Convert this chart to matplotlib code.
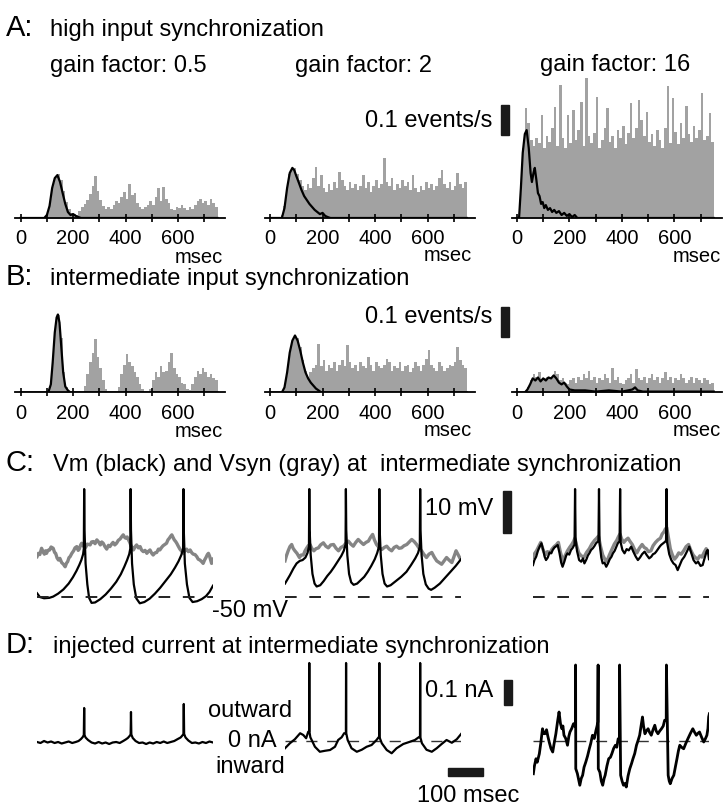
import numpy as np
import matplotlib
matplotlib.use('Agg')
import matplotlib.pyplot as plt
from matplotlib.patches import Rectangle

plt.rcParams['font.family'] = ['Liberation Sans', 'DejaVu Sans']

# ---------------- data ----------------
# PSTH bins (msec, left edges, 10 msec wide)
bin_left = np.arange(0, 750, 10)
tick_pos = list(range(0, 800, 100))
tick_labels = ['0', '', '200', '', '400', '', '600', '']

# A: high input synchronization, histograms in events/s
a1_gray = [0, 0, 0, 0, 0, 0, 0, 0, 0, 0,
           0.013, 0.047, 0.100, 0.133, 0.147, 0.127, 0.090, 0.053, 0.030, 0.017,
           0.013, 0.010, 0.023, 0.037, 0.047, 0.060, 0.080, 0.107, 0.140, 0.090,
           0.060, 0.040, 0.030, 0.037, 0.030, 0.043, 0.057, 0.050, 0.070, 0.087,
           0.063, 0.113, 0.077, 0.083, 0.050, 0.037, 0.030, 0.037, 0.043, 0.057,
           0.043, 0.070, 0.100, 0.057, 0.103, 0.063, 0.050, 0.030, 0.027, 0.037,
           0.033, 0.043, 0.033, 0.027, 0.037, 0.030, 0.043, 0.057, 0.063, 0.050,
           0.057, 0.043, 0.063, 0.050, 0.037]
a1_black_t = [0, 90, 100, 110, 120, 130, 140, 150, 160, 170, 180, 190, 200, 210, 220, 230, 750]
a1_black = [0, 0, 0.010, 0.040, 0.100, 0.133, 0.143, 0.120, 0.083, 0.047, 0.020, 0.010,
            0.013, 0.007, 0.003, 0, 0]

a2_gray = [0, 0, 0, 0, 0.010, 0.040, 0.100, 0.147, 0.167, 0.167,
           0.147, 0.127, 0.107, 0.093, 0.113, 0.100, 0.133, 0.170, 0.107, 0.143,
           0.100, 0.087, 0.113, 0.093, 0.120, 0.100, 0.153, 0.127, 0.107, 0.093,
           0.120, 0.100, 0.113, 0.093, 0.107, 0.143, 0.100, 0.120, 0.087, 0.107,
           0.127, 0.100, 0.113, 0.200, 0.120, 0.107, 0.133, 0.093, 0.113, 0.100,
           0.127, 0.107, 0.120, 0.093, 0.143, 0.100, 0.087, 0.107, 0.093, 0.120,
           0.100, 0.113, 0.093, 0.107, 0.133, 0.160, 0.113, 0.100, 0.120, 0.093,
           0.107, 0.150, 0.113, 0.100, 0.120]
a2_black_t = [0, 45, 55, 65, 75, 85, 92, 100, 110, 120, 130, 140, 150, 160, 170, 180,
              190, 200, 210, 220, 230, 750]
a2_black = [0, 0, 0.033, 0.100, 0.150, 0.167, 0.160, 0.140, 0.117, 0.093, 0.073, 0.060,
            0.047, 0.037, 0.027, 0.020, 0.013, 0.017, 0.007, 0.003, 0, 0]

a3_gray = [0, 0.067, 0.233, 0.367, 0.317, 0.260, 0.240, 0.267, 0.250, 0.343,
           0.233, 0.273, 0.253, 0.300, 0.370, 0.240, 0.443, 0.267, 0.233, 0.343,
           0.250, 0.360, 0.260, 0.293, 0.387, 0.240, 0.467, 0.273, 0.250, 0.283,
           0.403, 0.233, 0.260, 0.300, 0.367, 0.253, 0.273, 0.233, 0.293, 0.267,
           0.307, 0.247, 0.283, 0.383, 0.267, 0.300, 0.393, 0.327, 0.273, 0.353,
           0.253, 0.280, 0.240, 0.293, 0.260, 0.233, 0.300, 0.440, 0.250, 0.400,
           0.287, 0.247, 0.317, 0.267, 0.373, 0.280, 0.253, 0.307, 0.267, 0.293,
           0.417, 0.260, 0.273, 0.350, 0.253]
a3_black_t = [0, 8, 15, 22, 30, 37, 45, 52, 57, 63, 68, 74, 80, 86, 92, 98, 104, 110,
              118, 126, 134, 142, 150, 160, 170, 180, 190, 200, 210, 220, 230, 750]
a3_black = [0, 0, 0.100, 0.217, 0.280, 0.293, 0.233, 0.150, 0.120, 0.150, 0.167, 0.127,
            0.083, 0.073, 0.047, 0.053, 0.033, 0.043, 0.027, 0.033, 0.020, 0.027, 0.017,
            0.023, 0.010, 0.017, 0.007, 0.013, 0.003, 0.010, 0, 0]

# B: intermediate input synchronization
b1_gray = [0, 0, 0, 0, 0, 0, 0, 0, 0, 0,
           0, 0.017, 0.100, 0.217, 0.260, 0.183, 0.067, 0.017, 0, 0,
           0, 0, 0, 0, 0.020, 0.060, 0.100, 0.133, 0.177, 0.117,
           0.080, 0.040, 0.013, 0, 0, 0, 0, 0.017, 0.060, 0.093,
           0.127, 0.100, 0.087, 0.067, 0.053, 0.027, 0.010, 0, 0, 0.013,
           0.040, 0.067, 0.053, 0.087, 0.067, 0.073, 0.100, 0.130, 0.080, 0.060,
           0.053, 0.033, 0.027, 0.010, 0.007, 0.027, 0.053, 0.073, 0.060, 0.080,
           0.067, 0.053, 0.060, 0.047, 0.040]
b1_black_t = [0, 105, 115, 122, 130, 137, 142, 148, 155, 162, 170, 180, 190, 750]
b1_black = [0, 0, 0.027, 0.100, 0.200, 0.250, 0.260, 0.233, 0.150, 0.067, 0.020, 0.007, 0, 0]

b2_gray = [0, 0, 0, 0, 0, 0.013, 0.050, 0.107, 0.160, 0.187,
           0.180, 0.150, 0.107, 0.073, 0.053, 0.067, 0.080, 0.093, 0.160, 0.087,
           0.107, 0.073, 0.093, 0.080, 0.100, 0.073, 0.093, 0.107, 0.087, 0.157,
           0.100, 0.080, 0.093, 0.073, 0.100, 0.087, 0.080, 0.117, 0.093, 0.073,
           0.100, 0.087, 0.080, 0.093, 0.113, 0.100, 0.073, 0.087, 0.080, 0.100,
           0.073, 0.087, 0.093, 0.067, 0.080, 0.100, 0.087, 0.073, 0.093, 0.113,
           0.140, 0.093, 0.080, 0.073, 0.100, 0.087, 0.073, 0.080, 0.093, 0.087,
           0.100, 0.150, 0.107, 0.093, 0.080]
b2_black_t = [0, 45, 55, 65, 75, 85, 95, 105, 115, 125, 135, 145, 155, 165, 175, 185, 195, 750]
b2_black = [0, 0, 0.017, 0.067, 0.133, 0.173, 0.190, 0.173, 0.140, 0.100, 0.067, 0.047,
            0.033, 0.023, 0.013, 0.007, 0, 0]

b3_gray = [0, 0, 0, 0, 0.017, 0.040, 0.060, 0.050, 0.067, 0.040,
           0.047, 0.053, 0.040, 0.050, 0.073, 0.060, 0.040, 0.047, 0.033, 0.027,
           0.040, 0.047, 0.033, 0.053, 0.040, 0.060, 0.047, 0.073, 0.040, 0.053,
           0.033, 0.047, 0.040, 0.060, 0.047, 0.033, 0.080, 0.040, 0.053, 0.033,
           0.027, 0.040, 0.047, 0.060, 0.033, 0.077, 0.047, 0.040, 0.053, 0.033,
           0.047, 0.060, 0.040, 0.053, 0.033, 0.047, 0.067, 0.040, 0.053, 0.033,
           0.047, 0.040, 0.060, 0.047, 0.033, 0.040, 0.053, 0.033, 0.047, 0.040,
           0.033, 0.047, 0.040, 0.027, 0.033]
b3_black_t = [0, 30, 40, 50, 60, 70, 80, 90, 100, 110, 120, 130, 140, 150, 160, 170, 180,
              190, 200, 220, 260, 300, 350, 400, 440, 450, 460, 480, 750]
b3_black = [0, 0, 0.010, 0.027, 0.047, 0.040, 0.050, 0.037, 0.047, 0.040, 0.050, 0.047,
            0.057, 0.047, 0.033, 0.027, 0.033, 0.020, 0.010, 0.007, 0.007, 0.003, 0.007,
            0.003, 0.010, 0.017, 0.007, 0.003, 0.003]

# C: membrane potential Vm (black) and synaptic potential Vsyn (gray), mV vs msec
c1_vm_t = [0, 8, 20, 35, 46, 60, 75, 90, 102, 112, 120, 126, 131, 133, 134, 135, 138, 143,
           148, 155, 165, 180, 195, 210, 225, 238, 248, 256, 262, 265, 266, 267, 270, 275,
           282, 292, 305, 320, 335, 350, 365, 380, 392, 402, 410, 415, 416, 417, 420, 426,
           433, 442, 455, 468, 480, 490, 500]
c1_vm = [-49.1, -50.0, -50.3, -50.2, -49.9, -49.2, -48.2, -46.8, -45.3, -43.8, -42.4, -41.2,
         -39.8, -38.5, -24.3, -34.0, -42.0, -47.0, -50.2, -51.4, -51.3, -50.5, -49.4, -48.0,
         -46.4, -44.6, -42.8, -41.2, -39.8, -38.5, -24.3, -34.0, -42.0, -47.0, -50.3, -51.5,
         -51.2, -50.4, -49.2, -47.8, -46.2, -44.6, -43.0, -41.5, -40.0, -38.5, -24.3, -34.0,
         -42.0, -47.0, -50.2, -51.2, -51.0, -50.5, -49.8, -48.8, -47.3]
c1_vsyn_t = [0, 4, 8, 13, 17, 21, 24, 27, 31, 36, 40, 46, 50, 53, 57, 61, 65, 70, 75, 80,
             84, 87, 91, 94, 99, 104, 108, 113, 117, 120, 124, 127, 132, 138, 143, 151, 155,
             160, 165, 170, 175, 180, 184, 188, 193, 198, 203, 207, 212, 216, 221, 226, 231,
             236, 241, 245, 249, 252, 256, 260, 264, 267, 271, 274, 279, 283, 288, 293, 297,
             302, 307, 312, 317, 321, 326, 330, 335, 340, 345, 349, 354, 358, 363, 368, 372,
             376, 380, 383, 387, 390, 394, 397, 402, 406, 411, 416, 420, 425, 430, 435, 440,
             444, 449, 454, 458, 463, 468, 472, 476, 480, 484, 487, 490, 492, 496, 500]
c1_vsyn = [-40.4, -39.6, -39.9, -38.4, -39.2, -39.8, -39.0, -39.6, -38.9, -38.8, -38.1, -38.4,
           -39.4, -39.6, -40.7, -41.2, -40.8, -41.8, -42.2, -42.8, -41.9, -41.6, -40.6, -40.4,
           -39.6, -39.0, -38.3, -38.0, -38.9, -38.6, -37.6, -37.2, -37.9, -38.2, -37.4, -37.6,
           -36.9, -36.8, -37.3, -36.4, -36.9, -37.6, -36.9, -37.2, -38.0, -38.6, -37.7, -38.0,
           -37.4, -37.0, -37.6, -37.2, -36.5, -36.2, -35.6, -35.2, -35.8, -36.0, -35.7, -36.4,
           -37.1, -37.8, -38.3, -38.8, -38.0, -37.6, -38.3, -38.0, -38.8, -39.2, -38.9, -39.6,
           -39.1, -38.8, -39.6, -40.0, -39.5, -39.4, -38.6, -38.8, -38.2, -37.8, -37.5, -37.2,
           -36.4, -36.0, -35.5, -35.2, -35.9, -36.4, -36.8, -37.2, -38.0, -38.6, -39.1, -39.6,
           -39.0, -38.6, -39.2, -38.8, -39.5, -39.8, -39.9, -40.4, -41.0, -41.2, -41.6, -42.0,
           -41.2, -40.6, -39.9, -39.6, -40.2, -40.8, -42.0, -41.0]

c2_vm_t = [0, 7, 14, 24, 33, 42, 50, 58, 64, 68, 69, 70, 73, 78, 84, 90, 100, 110, 120, 130,
           140, 150, 160, 167, 172, 173, 174, 177, 182, 188, 195, 205, 215, 225, 235, 245,
           255, 262, 267, 268, 269, 272, 277, 283, 290, 300, 315, 330, 345, 358, 370, 378,
           383, 384, 385, 388, 393, 400, 408, 415, 425, 440, 455, 469, 485, 500]
c2_vm = [-46.8, -45.8, -44.8, -43.2, -42.0, -41.4, -41.2, -40.6, -39.5, -38.0, -24.3, -34.0,
         -40.0, -44.5, -46.8, -47.5, -47.2, -46.2, -45.0, -44.0, -42.8, -41.5, -40.2, -39.0,
         -37.5, -24.3, -34.0, -40.0, -44.5, -46.5, -47.1, -46.8, -46.0, -45.2, -44.0, -42.6,
         -41.0, -39.5, -38.0, -24.3, -34.0, -40.0, -44.5, -46.8, -47.5, -47.2, -46.2, -45.2,
         -44.0, -42.4, -40.8, -39.5, -38.0, -24.3, -34.0, -40.0, -44.5, -47.0, -48.0, -48.3,
         -47.8, -46.8, -45.4, -44.1, -42.6, -41.0]
c2_vsyn_t = [0, 4, 9, 14, 19, 23, 28, 34, 41, 46, 52, 57, 62, 66, 71, 76, 82, 88, 95, 101,
             109, 116, 123, 130, 138, 145, 152, 159, 166, 173, 180, 187, 194, 201, 208, 215,
             223, 230, 237, 243, 249, 254, 260, 267, 275, 282, 289, 296, 303, 310, 317, 324,
             331, 338, 346, 353, 360, 367, 374, 381, 388, 395, 402, 409, 417, 424, 431, 438,
             445, 452, 459, 466, 474, 480, 486, 491, 496]
c2_vsyn = [-41.4, -40.2, -39.0, -38.0, -37.5, -38.4, -39.0, -39.6, -40.6, -40.0, -40.0, -39.0,
           -38.3, -37.8, -37.5, -38.4, -39.0, -38.5, -38.3, -37.6, -37.1, -37.9, -38.3, -37.6,
           -37.5, -38.4, -39.0, -38.2, -37.9, -37.2, -36.7, -37.4, -37.9, -37.0, -36.3, -36.9,
           -37.5, -37.0, -36.7, -35.8, -35.1, -36.4, -37.5, -38.2, -38.7, -38.2, -37.9, -38.6,
           -39.0, -38.2, -37.9, -38.4, -38.3, -37.8, -37.5, -36.9, -36.3, -36.8, -37.5, -38.4,
           -39.0, -39.9, -40.6, -39.8, -39.4, -40.5, -41.4, -41.8, -42.2, -41.4, -40.6, -41.2,
           -41.8, -40.4, -39.0, -39.8, -40.6]

c3_vm_t = [0, 4, 9, 14, 19, 24, 29, 33, 37, 42, 47, 52, 56, 61, 66, 70, 75, 80, 84, 89, 94,
           98, 103, 108, 112, 116, 118, 119.5, 121, 125, 131, 137, 142, 146, 152, 156, 160,
           165, 170, 175, 179, 184, 186, 187.5, 189, 194, 198, 203, 208, 213, 218, 223, 227,
           232, 237, 241, 245, 246, 247.5, 249, 254, 260, 266, 272, 279, 285, 292, 298, 304,
           310, 317, 323, 330, 336, 341, 346, 350, 355, 360, 364, 370, 376, 378, 379.5, 381,
           387, 393, 399, 405, 411, 417, 423, 430, 436, 444, 450, 456, 463, 469, 476, 482,
           488, 493, 496, 500]
c3_vm = [-42.4, -41.2, -40.4, -39.0, -38.0, -37.2, -38.8, -40.4, -41.2, -40.6, -39.4, -39.6,
         -38.8, -38.2, -37.9, -37.6, -39.4, -41.8, -42.8, -41.6, -40.2, -39.6, -39.9, -38.8,
         -38.4, -37.8, -37.5, -24.3, -36.0, -39.0, -41.2, -41.6, -40.8, -42.0, -41.0, -40.1,
         -39.6, -38.8, -38.4, -37.8, -37.2, -36.8, -36.5, -24.3, -37.0, -40.6, -42.0, -41.8,
         -42.8, -42.0, -41.0, -40.4, -39.6, -39.0, -38.0, -37.2, -36.8, -36.5, -24.3, -37.0,
         -38.8, -39.6, -38.6, -38.9, -38.0, -39.2, -40.4, -41.2, -40.6, -39.8, -39.2, -40.0,
         -40.8, -40.4, -39.8, -39.6, -39.2, -38.6, -38.0, -37.6, -37.2, -36.8, -36.5, -24.3,
         -37.0, -39.8, -41.2, -42.0, -42.4, -43.6, -42.4, -41.2, -40.4, -39.4, -38.0, -39.6,
         -41.2, -42.0, -41.6, -42.6, -42.4, -40.6, -39.2, -38.8, -41.0]
c3_vsyn_t = [0, 5, 10, 16, 22, 28, 35, 41, 48, 54, 60, 66, 72, 78, 85, 91, 98, 104, 110, 115,
             119, 124, 130, 137, 145, 152, 160, 167, 175, 181, 186, 192, 198, 204, 210, 217,
             225, 231, 238, 243, 247, 252, 258, 264, 270, 276, 282, 288, 295, 302, 310, 316,
             322, 328, 335, 341, 348, 355, 362, 367, 372, 376, 380, 385, 390, 396, 402, 408,
             414, 421, 428, 435, 442, 448, 455, 461, 468, 474, 480, 486, 492, 496, 500]
c3_vsyn = [-40.5, -39.6, -39.0, -38.0, -37.0, -38.6, -40.0, -39.2, -39.5, -38.6, -38.0, -37.6,
           -37.0, -39.4, -41.5, -40.2, -39.0, -38.2, -37.5, -36.8, -36.0, -37.8, -39.5, -40.2,
           -40.5, -39.4, -38.5, -37.4, -36.5, -36.0, -35.5, -38.0, -40.0, -41.0, -41.5, -40.0,
           -38.5, -37.4, -36.5, -35.6, -35.0, -36.2, -37.0, -36.4, -36.0, -36.8, -37.5, -38.6,
           -39.5, -38.4, -37.5, -38.2, -38.5, -39.2, -39.0, -37.8, -37.0, -36.4, -36.0, -35.0,
           -34.5, -33.8, -33.5, -36.0, -38.5, -40.0, -41.0, -40.4, -39.5, -39.8, -39.0, -38.0,
           -37.5, -38.8, -40.0, -40.6, -41.0, -40.2, -40.5, -39.4, -38.5, -39.0, -39.5]
rest_mv = -50

# D: injected current (nA) vs msec
d1_t = [0, 10, 20, 30, 40, 50, 60, 70, 80, 90, 100, 110, 118, 125, 130, 133, 134, 135, 138,
        145, 155, 165, 175, 185, 195, 205, 215, 225, 235, 245, 252, 258, 263, 266, 267, 268,
        272, 280, 290, 300, 310, 320, 330, 340, 350, 360, 370, 380, 390, 400, 408, 413, 416,
        417, 418, 422, 430, 440, 450, 460, 470, 480, 490, 500]
d1_i = [-0.004, -0.008, 0.0, -0.006, -0.002, -0.008, -0.004, -0.010, -0.006, -0.002, -0.008,
        -0.004, 0.0, 0.008, 0.016, 0.024, 0.132, 0.024, 0.014, 0.004, -0.006, -0.010, -0.004,
        -0.010, -0.006, -0.012, -0.006, -0.004, -0.008, 0.0, 0.006, 0.012, 0.020, 0.026, 0.116,
        0.026, 0.012, 0.0, -0.008, -0.006, -0.012, -0.006, -0.010, -0.004, -0.008, -0.002,
        -0.008, -0.004, 0.0, 0.008, 0.014, 0.022, 0.028, 0.148, 0.028, 0.014, 0.002, -0.008,
        -0.006, -0.010, -0.004, -0.008, -0.002, -0.006]
d2_t = [0, 14, 28, 43, 52, 60, 66, 68.5, 69, 69.5, 72, 85, 99, 114, 128, 142, 151, 161, 168,
        173, 173.5, 174, 178, 189, 204, 218, 232, 246, 260, 266, 267.5, 268, 268.5, 275, 289,
        303, 317, 336, 355, 369, 380, 383.5, 384, 384.5, 389, 402, 417, 431, 445, 459, 474,
        488, 502]
d2_i = [-0.029, -0.009, 0.007, 0.031, 0.024, 0.011, 0.037, 0.037, 0.312, 0.037, 0.015,
        -0.023, -0.043, -0.039, -0.036, -0.023, 0.004, 0.015, 0.031, 0.031, 0.312, 0.031,
        0.004, -0.029, -0.043, -0.035, -0.023, -0.016, 0.004, 0.015, 0.015, 0.312, 0.015,
        -0.009, -0.036, -0.049, -0.029, -0.012, -0.003, 0.004, 0.015, 0.015, 0.312, 0.015,
        -0.009, -0.035, -0.043, -0.029, -0.012, 0.004, -0.007, 0.007, 0.031]
d3_t = [1, 4, 8.5, 12, 18, 22, 27, 30, 34, 38.5, 42, 46, 51, 56, 60, 65, 70, 74, 78, 82, 85,
        88, 93, 98, 102, 105, 110, 115, 118, 120.5, 121, 121.5, 126, 129, 133, 137, 141, 145,
        150, 155, 160, 164, 169, 174, 179, 182, 184, 185, 185.5, 190, 194, 198, 202, 205,
        210, 215, 220, 224, 229, 234, 238, 242, 245.5, 246, 249, 253, 257, 261, 265, 270,
        275, 280, 284, 289, 294, 298, 303, 307, 311, 314, 318, 322, 327, 331, 336, 341, 346,
        350, 355, 360, 365, 370, 374, 378.5, 379, 384, 387, 390, 395, 400, 405, 409, 413,
        417, 422, 428, 434, 440, 447, 454, 459, 464, 468, 473, 479, 485, 490, 494, 497, 499,
        501]
d3_i = [-0.131, -0.100, -0.071, -0.085, -0.051, -0.010, 0.049, 0.030, 0.029, 0.045, 0.020,
        -0.004, -0.030, -0.044, -0.010, 0.029, 0.080, 0.116, 0.070, 0.049, 0.060, 0.023,
        0.010, -0.017, 0.020, 0.036, 0.050, 0.069, 0.060, 0.076, 0.304, -0.111, -0.130,
        -0.150, -0.177, -0.150, -0.137, -0.105, -0.084, -0.060, -0.031, -0.010, 0.023, 0.010,
        0.043, 0.060, 0.076, 0.304, -0.111, -0.125, -0.160, -0.177, -0.150, -0.137, -0.100,
        -0.071, -0.065, -0.051, -0.030, -0.017, -0.025, 0.009, 0.009, 0.304, -0.137, -0.160,
        -0.177, -0.170, -0.184, -0.140, -0.111, -0.090, -0.071, -0.050, -0.017, 0.0, 0.023,
        0.060, 0.096, 0.060, 0.029, 0.040, 0.049, 0.035, 0.023, 0.045, 0.063, 0.040, 0.029,
        0.040, 0.049, 0.060, 0.083, 0.083, 0.304, -0.137, -0.160, -0.171, -0.150, -0.137,
        -0.100, -0.071, -0.040, -0.017, -0.025, -0.031, -0.010, 0.009, 0.030, 0.049, 0.035,
        0.023, 0.030, 0.036, 0.015, -0.004, 0.010, 0.023, 0.050, 0.096, 0.109]

GRAY = '#a2a2a2'
VSYN = '#858585'

# ---------------- layout helpers (pixel boxes) ----------------
W, H = 727, 810
fig = plt.figure(figsize=(W / 100, H / 100), dpi=100)


def px_axes(x0, x1, y0, y1):
    ax = fig.add_axes([x0 / W, 1 - y1 / H, (x1 - x0) / W, (y1 - y0) / H])
    ax.patch.set_alpha(0)
    return ax


def label(x, y, s, size=17, ha='left'):
    fig.text(x / W, 1 - y / H, s, fontsize=size, ha=ha, va='baseline')


def hist_panel(x0, base, gray, bt, bv):
    ax = px_axes(x0, x0 + 210, base - 150, base)
    ax.bar(bin_left, gray, width=10, align='edge', color=GRAY, linewidth=0)
    ax.fill_between(bt, bv, color=GRAY, linewidth=0)
    ax.plot(bt, bv, color='k', lw=1.6, solid_joinstyle='round')
    ax.set_xlim(-20, 780)
    ax.set_ylim(0, 0.5)
    for s in ['top', 'left', 'right']:
        ax.spines[s].set_visible(False)
    ax.spines['bottom'].set_linewidth(1.3)
    ax.set_yticks([])
    ax.set_xticks(tick_pos)
    ax.set_xticklabels(tick_labels)
    ax.tick_params(axis='x', direction='inout', length=6, width=1.2, labelsize=14.5, pad=5)
    return ax


def trace_axes(x0):
    ax = px_axes(x0, x0 + 176, 480, 612)
    ax.set_xlim(0, 500)
    ax.set_ylim(-50 - 15 / 4.2, -50 + 117 / 4.2)
    ax.axis('off')
    return ax


def current_axes(x0):
    ax = px_axes(x0, x0 + 176, 650, 800)
    ax.set_xlim(0, 500)
    ax.set_ylim(-59 / 250, 91 / 250)
    ax.axis('off')
    return ax


# ---------------- A ----------------
label(6, 36, 'A:', size=21)
label(50, 36, 'high input synchronization')
label(50, 72, 'gain factor: 0.5')
label(295, 72, 'gain factor: 2')
label(540, 71, 'gain factor: 16')
label(365, 127, '0.1 events/s')

hist_panel(15.4, 218, a1_gray, a1_black_t, a1_black)
hist_panel(264.8, 218, a2_gray, a2_black_t, a2_black)
ax_a3 = hist_panel(511.7, 218, a3_gray, a3_black_t, a3_black)
ax_a3.add_patch(Rectangle((-62, 0.277), 30, 0.1, color='#1a1a1a', clip_on=False))
label(223, 263, 'msec', size=14.5, ha='right')
label(472, 261, 'msec', size=14.5, ha='right')
label(721, 262, 'msec', size=14.5, ha='right')

# ---------------- B ----------------
label(6, 285, 'B:', size=21)
label(50, 285, 'intermediate input synchronization')
label(365, 323, '0.1 events/s')
hist_panel(15.4, 392.5, b1_gray, b1_black_t, b1_black)
hist_panel(264.8, 392.5, b2_gray, b2_black_t, b2_black)
ax_b3 = hist_panel(511.7, 392.5, b3_gray, b3_black_t, b3_black)
ax_b3.add_patch(Rectangle((-62, 0.185), 30, 0.1, color='#1a1a1a', clip_on=False))
label(223, 437, 'msec', size=14.5, ha='right')
label(472, 436, 'msec', size=14.5, ha='right')
label(721, 436, 'msec', size=14.5, ha='right')

# ---------------- C ----------------
label(6, 471, 'C:', size=21)
label(53, 471, 'Vm (black) and Vsyn (gray) at  intermediate synchronization')
for x0, vt, vv, st, sv in [(37, c1_vm_t, c1_vm, c1_vsyn_t, c1_vsyn),
                           (285, c2_vm_t, c2_vm, c2_vsyn_t, c2_vsyn),
                           (533, c3_vm_t, c3_vm, c3_vsyn_t, c3_vsyn)]:
    ax = trace_axes(x0)
    ax.plot(st, sv, color=VSYN, lw=2.4, solid_joinstyle='round')
    ax.plot(vt, vv, color='k', lw=1.6, solid_joinstyle='round')
    ax.axhline(rest_mv, color='#222222', lw=1.4, dashes=(6, 6.5))
    if x0 == 533:
        ax.add_patch(Rectangle((-85, -34.8), 22, 10, color='#1a1a1a', clip_on=False))
label(425, 515, '10 mV')
label(212, 617, '-50 mV')

# ---------------- D ----------------
label(6, 653, 'D:', size=21)
label(53, 653, 'injected current at intermediate synchronization')
for x0, t, i, lw in [(37, d1_t, d1_i, 1.6), (285, d2_t, d2_i, 1.6), (533, d3_t, d3_i, 2.0)]:
    ax = current_axes(x0)
    if x0 != 37:
        ax.axhline(0, color='#333333', lw=1.0, dashes=(8, 7))
    ax.plot(t, i, color='k', lw=lw, solid_joinstyle='round')
    if x0 == 533:
        ax.add_patch(Rectangle((-82, 0.144), 22, 0.1, color='#1a1a1a', clip_on=False))
    if x0 == 285:
        ax.add_patch(Rectangle((463, -0.14), 100, 0.032, color='#1a1a1a', clip_on=False))
label(292, 717, 'outward', ha='right')
label(277, 747, '0 nA', ha='right')
label(285, 773, 'inward', ha='right')
label(425, 697, '0.1 nA')
label(417, 802, '100 msec')

fig.savefig('out.png', dpi=100)
